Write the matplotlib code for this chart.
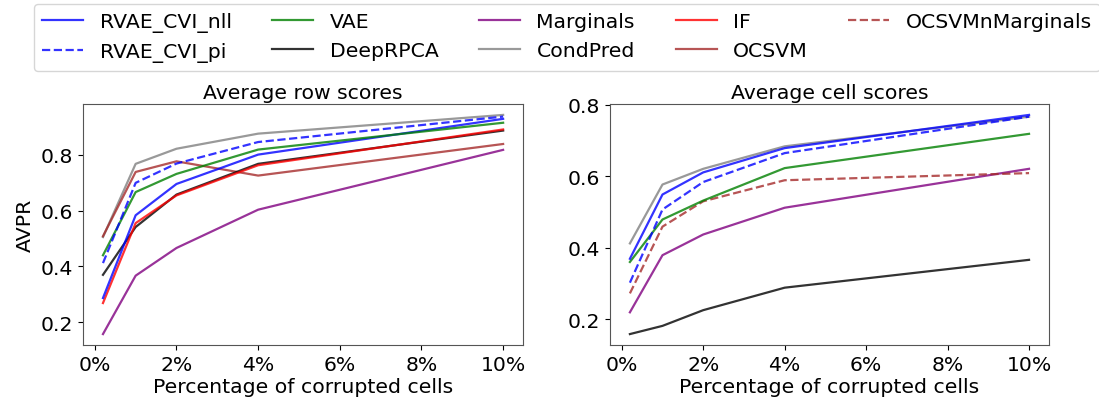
import matplotlib
matplotlib.use("Agg")
import matplotlib.pyplot as plt
from matplotlib.ticker import PercentFormatter

# процент испорченных ячеек
pct = [0.2, 1, 2, 4, 10]

# Average row scores (AVPR)
row_nll = [0.287, 0.583, 0.695, 0.800, 0.928]
row_pi = [0.412, 0.699, 0.768, 0.845, 0.936]
row_vae = [0.440, 0.666, 0.731, 0.818, 0.914]
row_rpca = [0.370, 0.541, 0.657, 0.767, 0.886]
row_marg = [0.158, 0.367, 0.466, 0.603, 0.817]
row_cond = [0.505, 0.767, 0.821, 0.875, 0.942]
row_if = [0.269, 0.555, 0.654, 0.762, 0.890]
row_ocsvm = [0.508, 0.738, 0.776, 0.725, 0.838]

# Average cell scores (AVPR)
cell_nll = [0.369, 0.549, 0.611, 0.679, 0.772]
cell_pi = [0.302, 0.507, 0.584, 0.665, 0.767]
cell_vae = [0.360, 0.479, 0.532, 0.623, 0.719]
cell_rpca = [0.158, 0.181, 0.225, 0.288, 0.366]
cell_marg = [0.219, 0.379, 0.437, 0.512, 0.621]
cell_cond = [0.412, 0.577, 0.621, 0.684, 0.767]
cell_ocsvm_marg = [0.272, 0.459, 0.530, 0.589, 0.609]

fs = 14.7
plt.rcParams["font.size"] = fs

fig = plt.figure(figsize=(10.99, 4.10), dpi=100)
ax1 = fig.add_axes([0.0755, 0.156, 0.4005, 0.588])
ax2 = fig.add_axes([0.555, 0.156, 0.3995, 0.588])

a = 0.8
lw = 1.6
styles = {
    "RVAE_CVI_nll": dict(color="blue", ls="-"),
    "RVAE_CVI_pi": dict(color="blue", ls="--"),
    "VAE": dict(color="green", ls="-"),
    "DeepRPCA": dict(color="black", ls="-"),
    "Marginals": dict(color="purple", ls="-"),
    "CondPred": dict(color="gray", ls="-"),
    "IF": dict(color="red", ls="-"),
    "OCSVM": dict(color="brown", ls="-"),
    "OCSVMnMarginals": dict(color="brown", ls="--"),
}

row_data = [("Marginals", row_marg), ("CondPred", row_cond), ("OCSVM", row_ocsvm),
            ("DeepRPCA", row_rpca), ("IF", row_if), ("RVAE_CVI_nll", row_nll),
            ("VAE", row_vae), ("RVAE_CVI_pi", row_pi)]
cell_data = [("DeepRPCA", cell_rpca), ("Marginals", cell_marg),
             ("OCSVMnMarginals", cell_ocsvm_marg), ("VAE", cell_vae),
             ("CondPred", cell_cond), ("RVAE_CVI_pi", cell_pi), ("RVAE_CVI_nll", cell_nll)]

for name, vals in row_data:
    ax1.plot(pct, vals, lw=lw, alpha=a, **styles[name])
for name, vals in cell_data:
    ax2.plot(pct, vals, lw=lw, alpha=a, **styles[name])

for ax, title in [(ax1, "Average row scores"), (ax2, "Average cell scores")]:
    ax.set_title(title, fontsize=fs, pad=4)
    ax.set_xlabel("Percentage of corrupted cells", fontsize=fs, labelpad=2)
    ax.xaxis.set_major_formatter(PercentFormatter(decimals=0))
    ax.set_xticks([0, 2, 4, 6, 8, 10])
    ax.tick_params(labelsize=fs)
    for s in ax.spines.values():
        s.set_color("#555555")
ax1.set_ylabel("AVPR", fontsize=fs)
ax1.set_yticks([0.2, 0.4, 0.6, 0.8])
ax2.set_yticks([0.2, 0.4, 0.6, 0.8])

handles = []
labels = list(styles.keys())
for name in labels:
    h, = ax1.plot([], [], lw=lw, alpha=a, **styles[name])
    handles.append(h)
fig.legend(handles, labels, ncol=5, loc="upper center", bbox_to_anchor=(0.516, 1.0),
           fontsize=fs, columnspacing=2.0, handlelength=2.0, borderaxespad=0.25)

fig.savefig("out.png", dpi=100)
